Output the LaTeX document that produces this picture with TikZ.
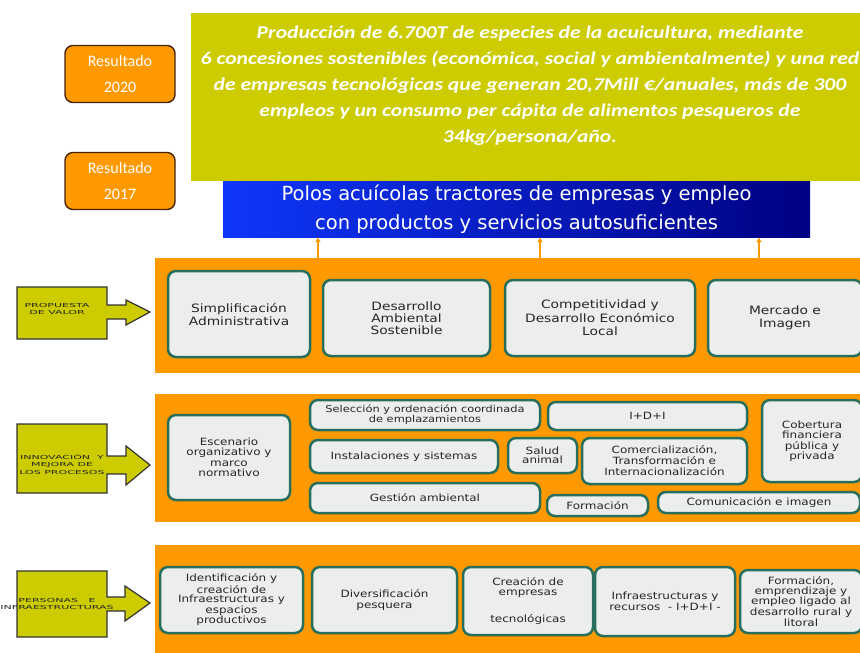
\documentclass[tikz,border=0pt]{standalone}
\usepackage{fontspec}
\usepackage{tikz}
\usetikzlibrary{arrows.meta}
\newfontfamily\cajafont[FakeStretch=1.2]{DejaVu Sans}
\newfontfamily\etiqfont[FakeStretch=2]{DejaVu Sans}
\newfontfamily\polosfont{DejaVu Sans}
\newfontfamily\metafont[FakeStretch=1.2]{Carlito}
\newfontfamily\resfont{Carlito}
\definecolor{naranja}{RGB}{255,153,0}
\definecolor{oliva}{RGB}{204,204,0}
\definecolor{verdeazul}{RGB}{40,110,92}
\definecolor{grisc}{RGB}{236,238,238}
\definecolor{marron}{RGB}{70,35,10}
\definecolor{azulc}{RGB}{15,55,250}
\definecolor{azulo}{RGB}{0,0,130}

\begin{document}
\begin{tikzpicture}[x=1pt,y=-1pt,
  caja/.style={draw=verdeazul,line width=2.5pt,fill=grisc,rounded corners=8pt,align=center,inner sep=0pt,
    text=black!85,font=\cajafont\fontsize{10}{10.5}\selectfont},
  banda/.style={fill=naranja,inner sep=0pt},
  resultado/.style={fill=naranja,draw=marron,line width=1.4pt,rounded corners=8pt,minimum width=110pt,
    minimum height=57pt,align=center,text=white,font=\resfont\fontsize{16}{26}\selectfont},
  etiq/.style={fill=oliva,draw=black!80,line width=1.2pt},
  etiqtxt/.style={align=center,inner sep=0pt,text=black!85,font=\etiqfont\fontsize{5.5}{7.5}\selectfont},
  flecha/.style={naranja,line width=1.5pt,-{Latex[length=5pt,width=6pt]}}]
  \useasboundingbox (0,0) rectangle (860,653);
  \fill[white] (0,0) rectangle (860,653);
  % Resultados
  \node[resultado] (r2020) at (120,74) {Resultado\\2020};
  \node[resultado] (r2017) at (120,181) {Resultado\\2017};
  % Polos acuicolas
  \node[left color=azulc,right color=azulo,minimum width=587pt,minimum height=56pt,inner sep=0pt,align=center,
    text=white,font=\polosfont\fontsize{19.5}{29}\selectfont] (polos) at (516.5,209)
    {Polos acuícolas tractores de empresas y empleo\\con productos y servicios autosuficientes};
  % Meta 2020
  \node[fill=oliva,minimum width=669pt,minimum height=168pt,inner sep=0pt] (meta) at (525.5,97) {};
  \node[align=center,text=white,font=\metafont\bfseries\itshape\fontsize{18}{26}\selectfont] (metatxt) at (530,86)
    {Producción de 6.700T de especies de la acuicultura, mediante\\
     6 concesiones sostenibles (económica, social y ambientalmente) y una red\\
     de empresas tecnológicas que generan 20,7Mill €/anuales, más de 300\\
     empleos y un consumo per cápita de alimentos pesqueros de\\
     34kg/persona/año.};
  % Bandas
  \node[banda,minimum width=707pt,minimum height=115pt] (banda1) at (508.5,315.5) {};
  \node[banda,minimum width=707pt,minimum height=128pt] (banda2) at (508.5,458) {};
  \node[banda,minimum width=707pt,minimum height=110pt] (banda3) at (508.5,600) {};
  % Flechas hacia los polos
  \coordinate (f1) at (318,258);
  \coordinate (f2) at (540,258);
  \coordinate (f3) at (759,258);
  \draw[flecha] (f1) -- (f1 |- polos.south);
  \draw[flecha] (f2) -- (f2 |- polos.south);
  \draw[flecha] (f3) -- (f3 |- polos.south);
  % Propuesta de valor
  \draw[etiq] (17,287) -- (107,287) -- (107,305) -- (126,305) -- (126,300) -- (150,312) -- (126,325)
    -- (126,319) -- (107,319) -- (107,339) -- (17,339) -- cycle;
  \node[etiqtxt] (e1) at (57,309) {PROPUESTA\\DE VALOR};
  \node[caja,minimum width=142pt,minimum height=86pt,font=\cajafont\fontsize{11.5}{13}\selectfont] (simp) at (239,314)
    {Simplificación\\Administrativa};
  \node[caja,minimum width=167pt,minimum height=76pt,font=\cajafont\fontsize{11.5}{12}\selectfont] (desamb) at (406.5,318)
    {Desarrollo\\Ambiental\\Sostenible};
  \node[caja,minimum width=190pt,minimum height=76pt,font=\cajafont\fontsize{11.5}{13.5}\selectfont] (compet) at (600,318)
    {Competitividad y\\Desarrollo Económico\\Local};
  \node[caja,minimum width=154pt,minimum height=76pt,font=\cajafont\fontsize{11.5}{13}\selectfont] (merc) at (785,318)
    {Mercado e\\Imagen};
  % Innovacion y mejora
  \draw[etiq] (17,424) -- (107,424) -- (107,456) -- (126,456) -- (126,446) -- (150,465) -- (126,485)
    -- (126,474) -- (107,474) -- (107,493) -- (17,493) -- cycle;
  \node[etiqtxt] (e2) at (62,464) {INNOVACIÓN \ Y\\MEJORA DE\\LOS PROCESOS};
  \node[caja,minimum width=122pt,minimum height=85pt] (escen) at (229,457.5)
    {Escenario\\organizativo y\\marco\\normativo};
  \node[caja,minimum width=230pt,minimum height=30pt,font=\cajafont\fontsize{9.5}{8.5}\selectfont] (selec) at (425,415)
    {Selección y ordenación coordinada\\de emplazamientos};
  \node[caja,minimum width=188pt,minimum height=33pt] (instal) at (404,456.5) {Instalaciones y sistemas};
  \node[caja,minimum width=230pt,minimum height=30pt] (gestion) at (425,498) {Gestión ambiental};
  \node[caja,minimum width=199pt,minimum height=28pt] (idi) at (647.5,416) {I+D+I};
  \node[caja,minimum width=69pt,minimum height=35pt,font=\cajafont\fontsize{10}{9.5}\selectfont] (salud) at (542.5,455.5)
    {Salud\\animal};
  \node[caja,minimum width=165pt,minimum height=46pt,font=\cajafont\fontsize{10}{11}\selectfont] (comer) at (664.5,461)
    {Comercialización,\\Transformación e\\Internacionalización};
  \node[caja,minimum width=100pt,minimum height=82pt] (cobert) at (812,441)
    {Cobertura\\financiera\\pública y\\privada};
  \node[caja,minimum width=101pt,minimum height=21pt] (formac) at (597.5,505.5) {Formación};
  \node[caja,minimum width=202pt,minimum height=21pt] (comun) at (759,502.5) {Comunicación e imagen};
  % Personas e infraestructuras
  \draw[etiq] (17,571) -- (107,571) -- (107,597) -- (125,597) -- (125,586) -- (150,603) -- (125,621)
    -- (125,611) -- (107,611) -- (107,637) -- (17,637) -- cycle;
  \node[etiqtxt] (e3) at (57,604) {PERSONAS \ \ E\\INFRAESTRUCTURAS};
  \node[caja,minimum width=143pt,minimum height=66pt,font=\cajafont\fontsize{10}{9.5}\selectfont] (ident) at (231.5,600)
    {Identificación y\\creación de\\Infraestructuras y\\espacios\\productivos};
  \node[caja,minimum width=145pt,minimum height=66pt] (divers) at (384.5,600) {Diversificación\\pesquera};
  \node[caja,minimum width=130pt,minimum height=68pt] (creac) at (528,601)
    {Creación de\\empresas\\[16pt]tecnológicas};
  \node[caja,minimum width=140pt,minimum height=69pt] (infra) at (665,601.5)
    {Infraestructuras y\\recursos \ - I+D+I -};
  \node[caja,minimum width=122pt,minimum height=63pt,font=\cajafont\fontsize{10}{9.5}\selectfont] (formemp) at (801,601.5)
    {Formación,\\emprendizaje y\\empleo ligado al\\desarrollo rural y\\litoral};
\end{tikzpicture}
\end{document}
